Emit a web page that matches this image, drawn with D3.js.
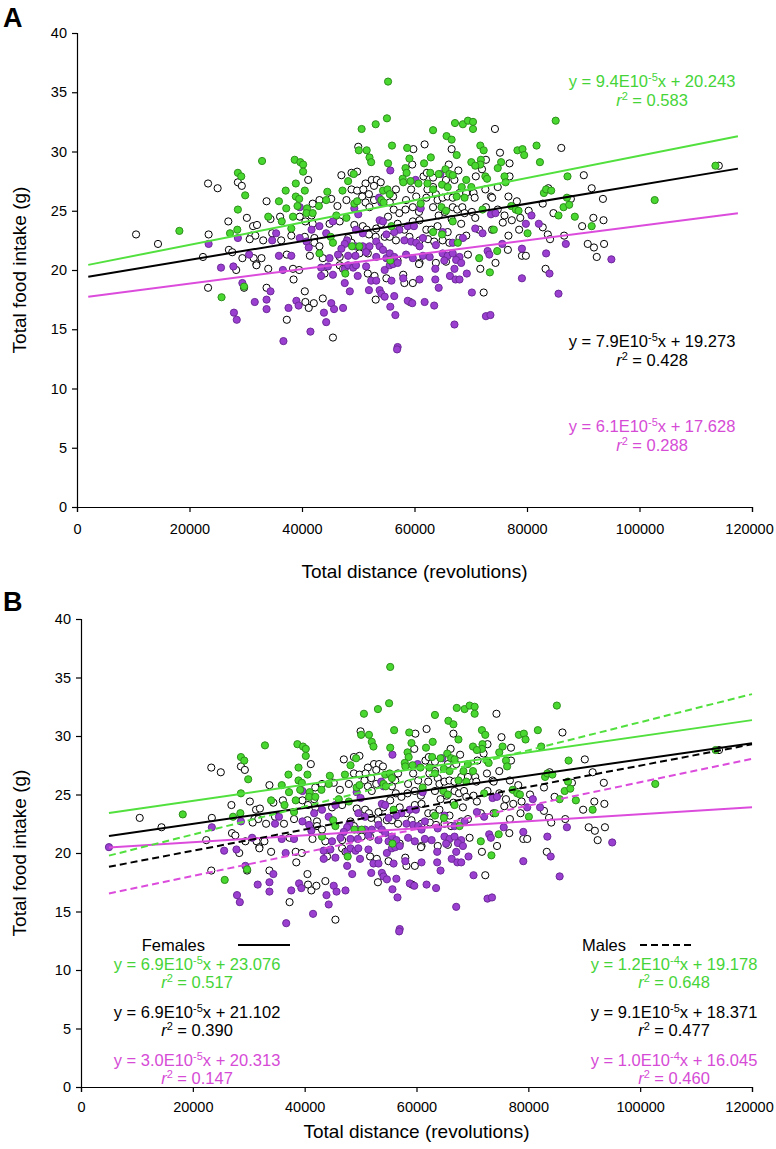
<!DOCTYPE html>
<html><head><meta charset="utf-8">
<script src="https://cdn.jsdelivr.net/npm/d3@7"></script>
<style>
body{margin:0;background:#fff}
svg text{font-family:"Liberation Sans",Arial,Helvetica,sans-serif}
</style>
</head><body>
<svg id="chart" width="776" height="1149"></svg>
<script>
// ---------- DATA (x in thousands of revolutions, y in grams) ----------
const xTicks = [0, 20000, 40000, 60000, 80000, 100000, 120000];
const yTicks = [0, 5, 10, 15, 20, 25, 30, 35, 40];

const greenPts = [
[32.9,29.2],[28.6,28.2],[29.2,27.9],[29.9,26.3],[37.1,26.7],[35.9,25.8],[28.6,25.1],[37.2,25.2],[34.0,24.5],[36.4,24.1],[18.2,23.3],[27.2,23.1],[28.5,23.4],
[25.7,17.7],[29.7,18.6],
[55.1,32.8],[53.1,32.3],[50.6,31.9],[67.2,32.4],[68.6,32.3],[69.5,32.6],[63.3,31.8],[65.7,31.3],[66.6,31.0],[50.1,30.1],[51.5,30.1],[56.0,30.5],[58.7,30.3],[67.5,29.7],[52.0,29.5],[52.3,29.1],[59.1,29.4],[62.9,29.5],[38.7,29.3],[39.7,29.1],[40.2,28.9],[55.3,29.0],[61.7,29.0],[58.4,28.6],[58.6,28.2],[49.2,28.1],[40.2,28.3],[48.2,27.5],[57.9,27.7],[58.0,27.4],[59.3,27.5],[62.8,28.2],[64.3,28.1],[65.5,28.5],[66.2,28.1],[66.8,28.0],[69.2,27.6],[60.7,27.3],[62.3,27.3],[64.9,27.2],[65.9,27.0],[68.4,27.0],[38.9,27.3],[38.9,26.2],[40.5,26.7],[44.5,26.6],[47.2,26.7],[54.4,26.7],[55.2,26.8],[55.6,26.4],[54.1,25.9],[54.5,25.7],[63.3,26.8],[67.5,26.2],[68.9,26.1],[39.5,26.0],[39.2,25.4],[40.9,25.2],[40.8,24.8],[41.9,24.8],[43.0,25.4],[44.3,25.9],[49.3,25.6],[49.8,25.8],[61.1,25.6],[64.8,25.3],[65.6,25.0],[38.4,24.5],[38.1,23.5],[46.1,24.6],[47.9,24.4],[55.9,23.7],[66.8,24.1],[63.3,23.2],[64.9,23.0],[45.1,22.8],[45.5,22.3],[48.9,22.0],[50.2,22.0],[67.7,22.3],[43.1,21.4],
[47.7,19.7],[55.7,20.8],
[70.4,32.5],[70.4,31.9],[85.1,32.6],[71.7,30.5],[72.3,30.1],[78.3,30.1],[79.2,30.2],[79.5,29.7],[81.7,30.5],[82.3,29.1],[70.1,29.1],[71.8,29.3],[71.7,28.9],[70.8,28.8],[75.4,29.1],[74.8,28.6],[76.0,27.9],[76.2,27.4],[72.6,27.9],[72.9,27.7],[87.2,27.9],[70.1,27.0],[83.0,26.5],[83.4,26.8],[84.3,26.7],[87.1,26.1],[102.7,25.9],[86.5,25.3],[87.5,25.5],[77.2,25.4],[78.0,25.1],[78.5,25.0],[72.1,25.1],[85.6,24.6],[88.5,24.5],[91.5,23.7],[74.1,23.4],[80.1,23.1],[74.7,21.6],[71.5,21.0],
[73.4,19.8],[55.3,35.9],[113.5,28.8]
];

const whitePts = [
[23.3,27.3],[25.0,26.9],[28.6,27.4],[29.3,27.1],[33.7,25.8],[30.2,24.4],[26.9,24.1],[34.4,24.3],[36.1,24.5],[10.5,23.0],[14.4,22.2],[23.4,23.0],[31.3,23.7],[32.0,23.8],[31.0,22.9],[31.7,22.9],[30.7,22.6],[34.7,23.1],[33.1,22.5],[36.3,22.5],[27.0,21.7],[27.6,21.5],[22.4,21.1],[29.4,21.0],[31.4,21.0],[32.8,21.0],[31.9,20.5],[37.3,21.3],[34.0,20.1],
[28.3,20.0],[31.9,20.4],[23.3,18.5],[29.7,18.5],[33.7,18.5],[37.3,15.8],
[61.8,30.6],[50.0,30.4],[59.8,30.2],[66.6,30.2],[59.6,28.9],[66.1,28.9],[49.8,28.3],[48.8,28.2],[47.0,28.0],[41.1,27.6],[52.4,27.6],[53.3,27.6],[54.0,27.4],[51.3,27.3],[52.8,27.1],[61.6,27.9],[63.3,27.8],[62.2,28.2],[65.6,27.6],[67.1,27.6],[67.8,28.4],[63.3,27.0],[45.2,26.0],[43.1,25.9],[41.9,25.6],[48.8,26.8],[49.8,26.7],[50.9,26.8],[50.7,26.2],[51.9,26.4],[52.8,25.9],[56.7,26.8],[56.2,26.2],[59.4,26.8],[58.5,25.9],[60.3,26.2],[62.3,26.8],[62.1,26.1],[63.8,26.4],[64.1,25.9],[65.0,26.1],[65.9,26.2],[66.8,26.1],[68.0,26.5],[69.2,26.5],[46.3,25.4],[47.9,25.9],[51.3,25.7],[52.0,25.3],[55.6,25.7],[56.3,25.1],[57.3,24.8],[58.4,25.1],[59.7,25.3],[60.8,24.9],[63.3,25.3],[64.3,24.6],[65.4,24.9],[66.8,25.3],[67.6,25.1],[68.5,25.3],[68.9,24.8],[39.6,24.5],[40.6,24.1],[41.7,24.6],[41.9,23.9],[44.9,23.9],[46.7,24.1],[49.3,23.8],[50.8,23.7],[51.5,23.4],[53.2,23.5],[54.1,23.9],[55.3,24.5],[57.0,23.9],[58.2,23.4],[59.7,24.1],[60.9,24.2],[62.1,23.4],[63.0,23.4],[64.1,23.7],[65.9,23.2],[66.6,24.3],[68.3,23.9],[69.2,22.9],[38.1,22.9],[40.5,22.8],[42.2,22.7],[42.2,22.3],[43.1,22.0],[48.2,22.7],[48.8,22.3],[51.9,23.0],[53.1,22.8],[54.7,22.8],[55.6,22.8],[56.7,22.5],[59.1,22.8],[60.9,22.5],[62.4,22.6],[63.5,22.4],[65.0,22.5],[66.2,22.3],[68.0,22.7],[41.4,21.2],[43.7,21.0],[46.7,21.1],[50.2,21.4],[51.7,21.4],[69.5,21.3],[57.0,20.8],[60.9,20.6],[63.8,20.6],[65.6,20.7],
[38.4,20.1],[39.5,20.0],[38.5,19.2],[44.0,19.7],[46.7,20.4],[47.3,20.1],[51.7,19.7],[52.9,19.5],[53.1,17.5],[55.0,19.3],[58.0,19.6],[58.2,18.9],[59.7,18.9],[59.2,17.3],[60.8,20.5],[40.5,18.2],[40.6,17.3],[41.2,16.8],[42.1,17.2],[43.7,17.6],[45.5,14.3],
[74.3,31.9],[75.2,29.9],[86.1,30.3],[72.7,29.3],[72.0,28.5],[76.9,29.0],[76.9,27.9],[70.9,27.9],[90.1,28.0],[72.6,26.8],[74.8,27.0],[70.5,26.5],[70.7,26.1],[73.6,26.2],[73.8,26.1],[76.7,26.2],[78.2,25.8],[83.8,26.9],[91.5,26.9],[87.8,26.0],[82.8,25.6],[93.5,26.0],[70.2,24.9],[72.7,25.3],[74.8,25.1],[76.0,24.6],[80.3,25.0],[77.3,24.2],[78.8,24.4],[70.8,24.4],[84.7,24.8],[91.8,24.4],[93.6,24.2],[89.8,23.7],[71.5,23.4],[73.8,23.4],[75.7,24.0],[82.8,23.6],[78.6,23.4],[76.7,22.9],[83.7,23.0],[84.1,22.6],[86.6,22.9],[90.8,22.2],[91.9,21.9],[93.7,22.2],[92.4,21.1],[76.6,21.7],[79.1,21.2],[79.8,21.2],
[71.7,20.1],[74.4,20.6],[83.3,20.1],[72.3,18.1],[114.1,28.8]
];

const purplePts = [
[23.4,22.2],[28.6,22.7],[35.4,23.1],[34.7,22.5],[30.6,21.3],[35.9,21.2],[25.6,20.2],[27.8,20.3],
[36.6,20.0],[29.4,18.9],[34.4,18.2],[31.6,17.3],[33.7,17.5],[33.7,16.7],[27.9,16.4],[28.4,15.8],[37.6,16.8],[36.7,14.0],
[55.7,28.4],[60.2,27.6],[64.6,28.1],[39.6,25.3],[49.3,25.2],[50.0,24.7],[53.7,26.1],[54.1,25.7],[61.1,25.2],[43.1,23.7],[44.3,23.1],[45.5,24.1],[41.7,23.4],[49.6,23.4],[50.8,23.1],[53.8,24.2],[54.4,24.1],[57.3,23.4],[58.8,23.7],[59.9,23.7],[65.0,23.2],[39.6,22.7],[40.8,22.4],[41.2,21.9],[48.0,22.5],[47.6,22.2],[47.0,21.8],[49.5,22.0],[50.8,22.0],[52.0,22.0],[53.2,22.4],[53.8,22.0],[54.4,21.7],[55.0,23.0],[56.4,23.2],[58.2,22.5],[59.4,22.4],[60.3,22.3],[60.9,22.0],[61.5,22.7],[63.8,22.1],[66.8,22.3],[68.6,22.7],[38.1,21.2],[44.9,21.0],[46.4,21.3],[48.2,21.2],[49.5,21.2],[51.4,21.5],[53.2,21.1],[55.0,21.0],[55.6,21.4],[56.4,21.1],[58.5,21.3],[59.7,21.0],[61.5,21.2],[62.7,21.1],[65.0,21.4],[65.9,21.2],[66.8,21.4],[68.0,21.1],[67.4,20.85],[68.3,20.6],[65.3,20.8],
[43.4,20.2],[44.6,20.3],[43.4,19.5],[45.5,19.6],[47.6,20.1],[48.2,20.4],[49.1,20.2],[49.6,20.4],[47.6,18.9],[48.5,18.2],[49.9,19.5],[51.4,20.3],[52.3,19.1],[53.2,19.1],[51.9,18.3],[53.8,18.3],[54.1,18.0],[54.7,17.75],[55.9,19.1],[54.7,20.0],[55.6,20.4],[56.2,20.5],[57.0,20.6],[58.0,19.3],[56.4,17.8],[55.7,16.9],[56.6,16.2],[58.8,17.4],[59.6,17.2],[60.9,19.2],[61.8,17.3],[63.5,17.0],[63.7,20.1],[63.7,19.2],[64.3,18.5],[66.3,19.5],[67.3,19.2],[68.0,19.2],[67.1,20.1],[69.3,19.7],[39.0,17.4],[39.4,17.0],[43.9,16.4],[45.2,17.2],[45.7,16.7],[47.3,16.8],[44.3,15.6],[41.5,14.8],[57.0,13.5],[56.9,13.3],[67.1,15.4],
[73.6,24.7],[74.4,24.8],[80.8,24.6],[70.8,23.5],[72.1,23.1],[79.8,23.9],[82.1,23.9],[86.9,22.2],[95.0,20.9],[75.6,22.2],[73.0,21.6],[73.3,21.3],[79.1,21.8],[83.4,21.4],
[84.0,19.7],[79.1,19.3],[70.2,18.1],[85.6,18.0],[72.7,16.1],[73.5,16.2]
];
const purpleExtraB = [[5.0,20.5]];

// regression fits: order green, black, purple
const slopesA = [9.4e-5, 7.9e-5, 6.1e-5];
const interceptsA = [20.243, 19.273, 17.628];
const mantA = ["9.4","7.9","6.1"], expA = ["-5","-5","-5"], r2A = ["0.583","0.428","0.288"];
const slopesF = [6.9e-5, 6.9e-5, 3.0e-5];
const interceptsF = [23.076, 21.102, 20.313];
const mantF = ["6.9","6.9","3.0"], expF = ["-5","-5","-5"], r2F = ["0.517","0.390","0.147"];
const slopesM = [1.2e-4, 9.1e-5, 1.0e-4];
const interceptsM = [19.178, 18.371, 16.045];
const mantM = ["1.2","9.1","1.0"], expM = ["-4","-5","-4"], r2M = ["0.648","0.477","0.460"];
const lineRangeA = [2000, 117500];
const lineRangeB = [5000, 120000];

// ---------- STYLE ----------
const C = {
  greenFill:"#48d830", greenStroke:"#2e8f1c",
  purpleFill:"#9a3fd0", purpleStroke:"#6e2a9a",
  lineGreen:"#52e03e", lineBlack:"#000", linePurple:"#dc4cdc",
  textGreen:"#45d438", textBlack:"#000", textPurple:"#d64bd6"
};
const lineCols = [C.lineGreen, C.lineBlack, C.linePurple];
const textCols = [C.textGreen, C.textBlack, C.textPurple];

const svg = d3.select("#chart");
const toPts = arr => arr.map(d => ({x: d[0]*1000, y: d[1]}));

function panel(cfg){
  const x = d3.scaleLinear().domain([0,120000]).range([cfg.x0, cfg.x1]);
  const y = d3.scaleLinear().domain([0,40]).range([cfg.yb, cfg.yt]);
  const g = svg.append("g");
  const ya = g.append("g").attr("transform",`translate(${cfg.x0},0)`)
    .call(d3.axisLeft(y).tickValues(yTicks).tickSize(5).tickPadding(5).tickFormat(d3.format("d")));
  const xa = g.append("g").attr("transform",`translate(0,${cfg.yb})`)
    .call(d3.axisBottom(x).tickValues(xTicks).tickSize(5).tickPadding(cfg.xpad).tickFormat(d3.format("d")));
  [ya,xa].forEach(a=>{
    a.select(".domain").attr("stroke","#000").attr("stroke-width",1.2);
    a.selectAll(".tick line").attr("stroke","#000").attr("stroke-width",1.2);
    a.selectAll(".tick text").attr("font-size",14.5).attr("fill","#000")
      .attr("font-family","Liberation Sans, Arial, sans-serif");
  });
  xa.selectAll(".tick text").filter(d=>d===120000).attr("dx",-3);
  const pg = g.append("g");
  const drawPts = (pts, fill, stroke) => pg.selectAll(null).data(pts).enter().append("circle")
     .attr("cx", d=>x(d.x)).attr("cy", d=>y(d.y)).attr("r",3.6)
     .attr("fill",fill).attr("stroke",stroke).attr("stroke-width",1);
  drawPts(toPts(whitePts), "#fff", "#000");
  drawPts(toPts(cfg.purple), C.purpleFill, C.purpleStroke);
  drawPts(toPts(greenPts), C.greenFill, C.greenStroke);
  cfg.fits.forEach(f=>{
    f.slopes.forEach((s,i)=>{
      const xs = f.range;
      g.append("line")
        .attr("x1",x(xs[0])).attr("y1",y(f.icpts[i]+s*xs[0]))
        .attr("x2",x(xs[1])).attr("y2",y(f.icpts[i]+s*xs[1]))
        .attr("stroke",lineCols[i]).attr("stroke-width",2)
        .attr("stroke-dasharray", f.dash || null);
    });
  });
  g.append("text").attr("x",(cfg.x0+cfg.x1)/2).attr("y",cfg.xTitleY)
    .attr("text-anchor","middle").attr("font-size",19).text("Total distance (revolutions)");
  g.append("text").attr("transform",`translate(${cfg.yTitleX},${(cfg.yt+cfg.yb)/2}) rotate(-90)`)
    .attr("text-anchor","middle").attr("font-size",19).text("Total food intake (g)");
  g.append("text").attr("x",3).attr("y",cfg.letterY).attr("font-size",27).attr("font-weight","bold").text(cfg.letter);
  return {x,y,g};
}

function eqLabel(g, cx, cy, col, mant, ex, icpt, r2, gap){
  const t = g.append("text").attr("x",cx).attr("y",cy).attr("text-anchor","middle")
    .attr("font-size",16.5).attr("fill",col);
  t.append("tspan").text(`y = ${mant}E10`);
  t.append("tspan").attr("dy",-6).attr("font-size",11).text(ex);
  t.append("tspan").attr("dy",6).text(`x + ${icpt.toFixed(3)}`);
  const r = g.append("text").attr("x",cx).attr("y",cy+gap).attr("text-anchor","middle")
    .attr("font-size",16.5).attr("fill",col);
  r.append("tspan").attr("font-style","italic").text("r");
  r.append("tspan").attr("dy",-6).attr("font-size",11).text("2");
  r.append("tspan").attr("dy",6).text(` = ${r2}`);
}

// Panel A
const A = panel({x0:77,x1:752,yt:33,yb:507,xpad:12,xTitleY:578,yTitleX:26,letter:"A",letterY:27,
  purple:purplePts, fits:[{slopes:slopesA, icpts:interceptsA, range:lineRangeA}]});
const eqYA = [87, 347, 432];
slopesA.forEach((s,i)=>eqLabel(A.g, 652, eqYA[i], textCols[i], mantA[i], expA[i], interceptsA[i], r2A[i], 19));

// Panel B
const B = panel({x0:81,x1:752,yt:619,yb:1087,xpad:10,xTitleY:1138,yTitleX:26,letter:"B",letterY:611,
  purple:purplePts.concat(purpleExtraB),
  fits:[{slopes:slopesF, icpts:interceptsF, range:lineRangeB},
        {slopes:slopesM, icpts:interceptsM, range:lineRangeB, dash:"7,4"}]});
const eqYB = [970, 1018, 1066];
slopesF.forEach((s,i)=>eqLabel(B.g, 197, eqYB[i], textCols[i], mantF[i], expF[i], interceptsF[i], r2F[i], 17.5));
slopesM.forEach((s,i)=>eqLabel(B.g, 674, eqYB[i], textCols[i], mantM[i], expM[i], interceptsM[i], r2M[i], 17.5));
B.g.append("text").attr("x",205).attr("y",951).attr("text-anchor","end").attr("font-size",16.5).text("Females");
B.g.append("line").attr("x1",238).attr("x2",290).attr("y1",945).attr("y2",945).attr("stroke","#000").attr("stroke-width",2);
B.g.append("text").attr("x",626).attr("y",951).attr("text-anchor","end").attr("font-size",16.5).text("Males");
B.g.append("line").attr("x1",640).attr("x2",692).attr("y1",945).attr("y2",945).attr("stroke","#000").attr("stroke-width",2).attr("stroke-dasharray","7,4");
</script>
</body></html>
